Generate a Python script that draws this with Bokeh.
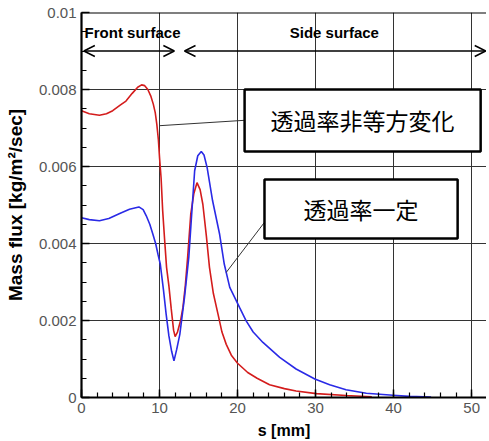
from bokeh.plotting import figure
from bokeh.models import (FixedTicker, Span, Arrow, OpenHead)
from bokeh.core.properties import value
from bokeh.embed import file_html
from bokeh.resources import INLINE

# ---------------- data ----------------
red_s = [0, 1, 2.3, 3.2, 4, 5, 5.7, 6.5, 7.2, 7.7, 8.1, 8.5, 8.9, 9.2, 9.45, 9.65,
         9.85, 10.0, 10.2, 10.4, 10.65, 10.9, 11.2, 11.5, 11.8, 12.0, 12.3, 12.7,
         13.0, 13.3, 13.6, 14.0, 14.4, 14.8, 15.2, 15.55, 16.0, 16.4, 16.9, 17.5,
         18.0, 18.55, 19.2, 20.0, 21.3, 22.5, 24.1, 26.0, 27.5, 30.1, 33.9, 37.2]
red_v = [0.00745, 0.00737, 0.00733, 0.00737, 0.00745, 0.0076, 0.0077, 0.0079,
         0.00806, 0.00812, 0.0081, 0.0080, 0.00782, 0.00762, 0.0074, 0.0071,
         0.0067, 0.00623, 0.0057, 0.00486, 0.0041, 0.00338, 0.0029, 0.0023,
         0.00175, 0.00158, 0.0017, 0.0020, 0.00234, 0.0029, 0.00364, 0.00476,
         0.0053, 0.00558, 0.0054, 0.00502, 0.0042, 0.00338, 0.0027, 0.00216,
         0.0017, 0.00138, 0.0011, 0.00089, 0.00065, 0.0005, 0.00033, 0.00023,
         0.00017, 0.0001, 0.00005, 0.00002]

blue_s = [0, 1, 2.3, 3.5, 4.9, 6.15, 7.35, 7.9, 8.3, 8.75, 9.15, 9.5, 9.8, 10.1,
          10.5, 10.85, 11.2, 11.55, 11.85, 12.2, 12.6, 13.2, 13.75, 14.1, 14.5,
          14.9, 15.35, 15.7, 16.1, 16.8, 17.7, 18.3, 19.0, 20.25, 21.1, 22.0,
          23.25, 25.4, 27.5, 29.9, 31.8, 33.9, 36.5, 39.9, 42.0, 44.8]
blue_v = [0.00467, 0.00462, 0.00459, 0.00465, 0.00478, 0.00489, 0.00495, 0.00488,
          0.00472, 0.0045, 0.00424, 0.004, 0.00372, 0.00346, 0.0028, 0.00216,
          0.0016, 0.0012, 0.00095, 0.00125, 0.00164, 0.0026, 0.00364, 0.0047,
          0.00589, 0.00628, 0.00639, 0.0063, 0.00597, 0.00511, 0.00424, 0.00346,
          0.00286, 0.00234, 0.00199, 0.0017, 0.00143, 0.00104, 0.00074, 0.00048,
          0.00033, 0.0002, 0.00011, 0.00006, 0.00003, 0.00001]

x_ticks = [0, 10, 20, 30, 40, 50]
x_minor = [v for v in range(0, 52, 2)]
y_ticks = [0, 0.002, 0.004, 0.006, 0.008, 0.01]
y_tick_labels = ["0", "0.002", "0.004", "0.006", "0.008", "0.01"]
y_minor = [i * 0.0005 for i in range(0, 21)]

label_front = "Front surface"
label_side = "Side surface"
label_aniso = "透過率非等方変化"
label_const = "透過率一定"

# annotation geometry (data units)
front_arrow = (0.3, 11.9)
side_arrow = (13.2, 51.8)
arrow_y = 0.009
box1 = dict(left=20.9, right=51.15, top=0.0080, bottom=0.00639)
box2 = dict(left=23.45, right=48.2, top=0.00566, bottom=0.00413)
leader1 = ([10.0, 20.9], [0.00706, 0.0072])
leader2 = ([18.55, 23.45], [0.00325, 0.00455])

# ---------------- figure ----------------
p = figure(frame_width=405, frame_height=385, x_range=(0, 51.9), y_range=(0, 0.01),
           output_backend="svg", toolbar_location=None,
           min_border_left=81, min_border_right=0, min_border_top=12, min_border_bottom=0)
p.outline_line_color = None
p.background_fill_color = "white"

p.xaxis.ticker = FixedTicker(ticks=x_ticks, minor_ticks=x_minor)
p.yaxis.ticker = FixedTicker(ticks=y_ticks, minor_ticks=y_minor)
p.yaxis.major_label_overrides = {t: l for t, l in zip(y_ticks, y_tick_labels)}

for ax in (p.xaxis[0], p.yaxis[0]):
    ax.axis_line_color = "black"
    ax.axis_line_width = 2.2
    ax.major_tick_in = 8
    ax.major_tick_out = 0
    ax.minor_tick_in = 5
    ax.minor_tick_out = 0
    ax.major_tick_line_color = "black"
    ax.minor_tick_line_color = "black"
    ax.major_tick_line_width = 1.5
    ax.minor_tick_line_width = 1.2
    ax.major_label_text_font = "Liberation Sans"
    ax.major_label_text_font_size = "15px"
    ax.major_label_text_color = "#555555"
    ax.axis_label_text_font = "Liberation Sans"
    ax.axis_label_text_font_style = "bold"
    ax.axis_label_text_color = "black"

p.xaxis.axis_label = "s [mm]"
p.xaxis.axis_label_text_font_size = "16px"
p.xaxis.major_label_standoff = 5
p.xaxis.axis_label_standoff = 6
p.yaxis.axis_label = "Mass flux [kg/m²/sec]"
p.yaxis.axis_label_text_font_size = "19px"
p.yaxis.major_label_standoff = 5
p.yaxis.axis_label_standoff = 10

p.xgrid.ticker = FixedTicker(ticks=x_ticks)
p.ygrid.ticker = FixedTicker(ticks=y_ticks)
for g in (p.xgrid[0], p.ygrid[0]):
    g.grid_line_color = "#333333"
    g.grid_line_width = 1

p.add_layout(Span(location=0.01, dimension="width", line_color="black", line_width=2))

# curves
p.line(red_s, red_v, line_color="#d41c1c", line_width=1.6)
p.line(blue_s, blue_v, line_color="#2a2ae6", line_width=1.6)

# arrows
for a, b in (front_arrow, side_arrow):
    p.add_layout(Arrow(x_start=a, x_end=b, y_start=arrow_y, y_end=arrow_y,
                       start=OpenHead(size=11, line_width=1.5, line_color="black"),
                       end=OpenHead(size=11, line_width=1.5, line_color="black"),
                       line_width=1.5, line_color="black"))

p.text(x=[0.4], y=[0.00948], text=[label_front], text_font=value("Liberation Sans"),
       text_font_style="bold", text_font_size="15px", text_color="black",
       text_align="left", text_baseline="middle")
p.text(x=[32.4], y=[0.00948], text=[label_side], text_font=value("Liberation Sans"),
       text_font_style="bold", text_font_size="15px", text_color="black",
       text_align="center", text_baseline="middle")

# leader lines
p.line(leader1[0], leader1[1], line_color="#333333", line_width=1)
p.line(leader2[0], leader2[1], line_color="#333333", line_width=1)

# callout boxes
for b, lab in ((box1, label_aniso), (box2, label_const)):
    p.quad(left=[b["left"]], right=[b["right"]], top=[b["top"]], bottom=[b["bottom"]],
           fill_color="white", line_color="black", line_width=2.5)
    p.text(x=[(b["left"] + b["right"]) / 2], y=[(b["top"] + b["bottom"]) / 2],
           text=[lab], text_font=value("Noto Sans CJK JP"), text_font_size="23px",
           text_color="black", text_align="center", text_baseline="middle")

open("out.html", "w").write(file_html(p, INLINE))
